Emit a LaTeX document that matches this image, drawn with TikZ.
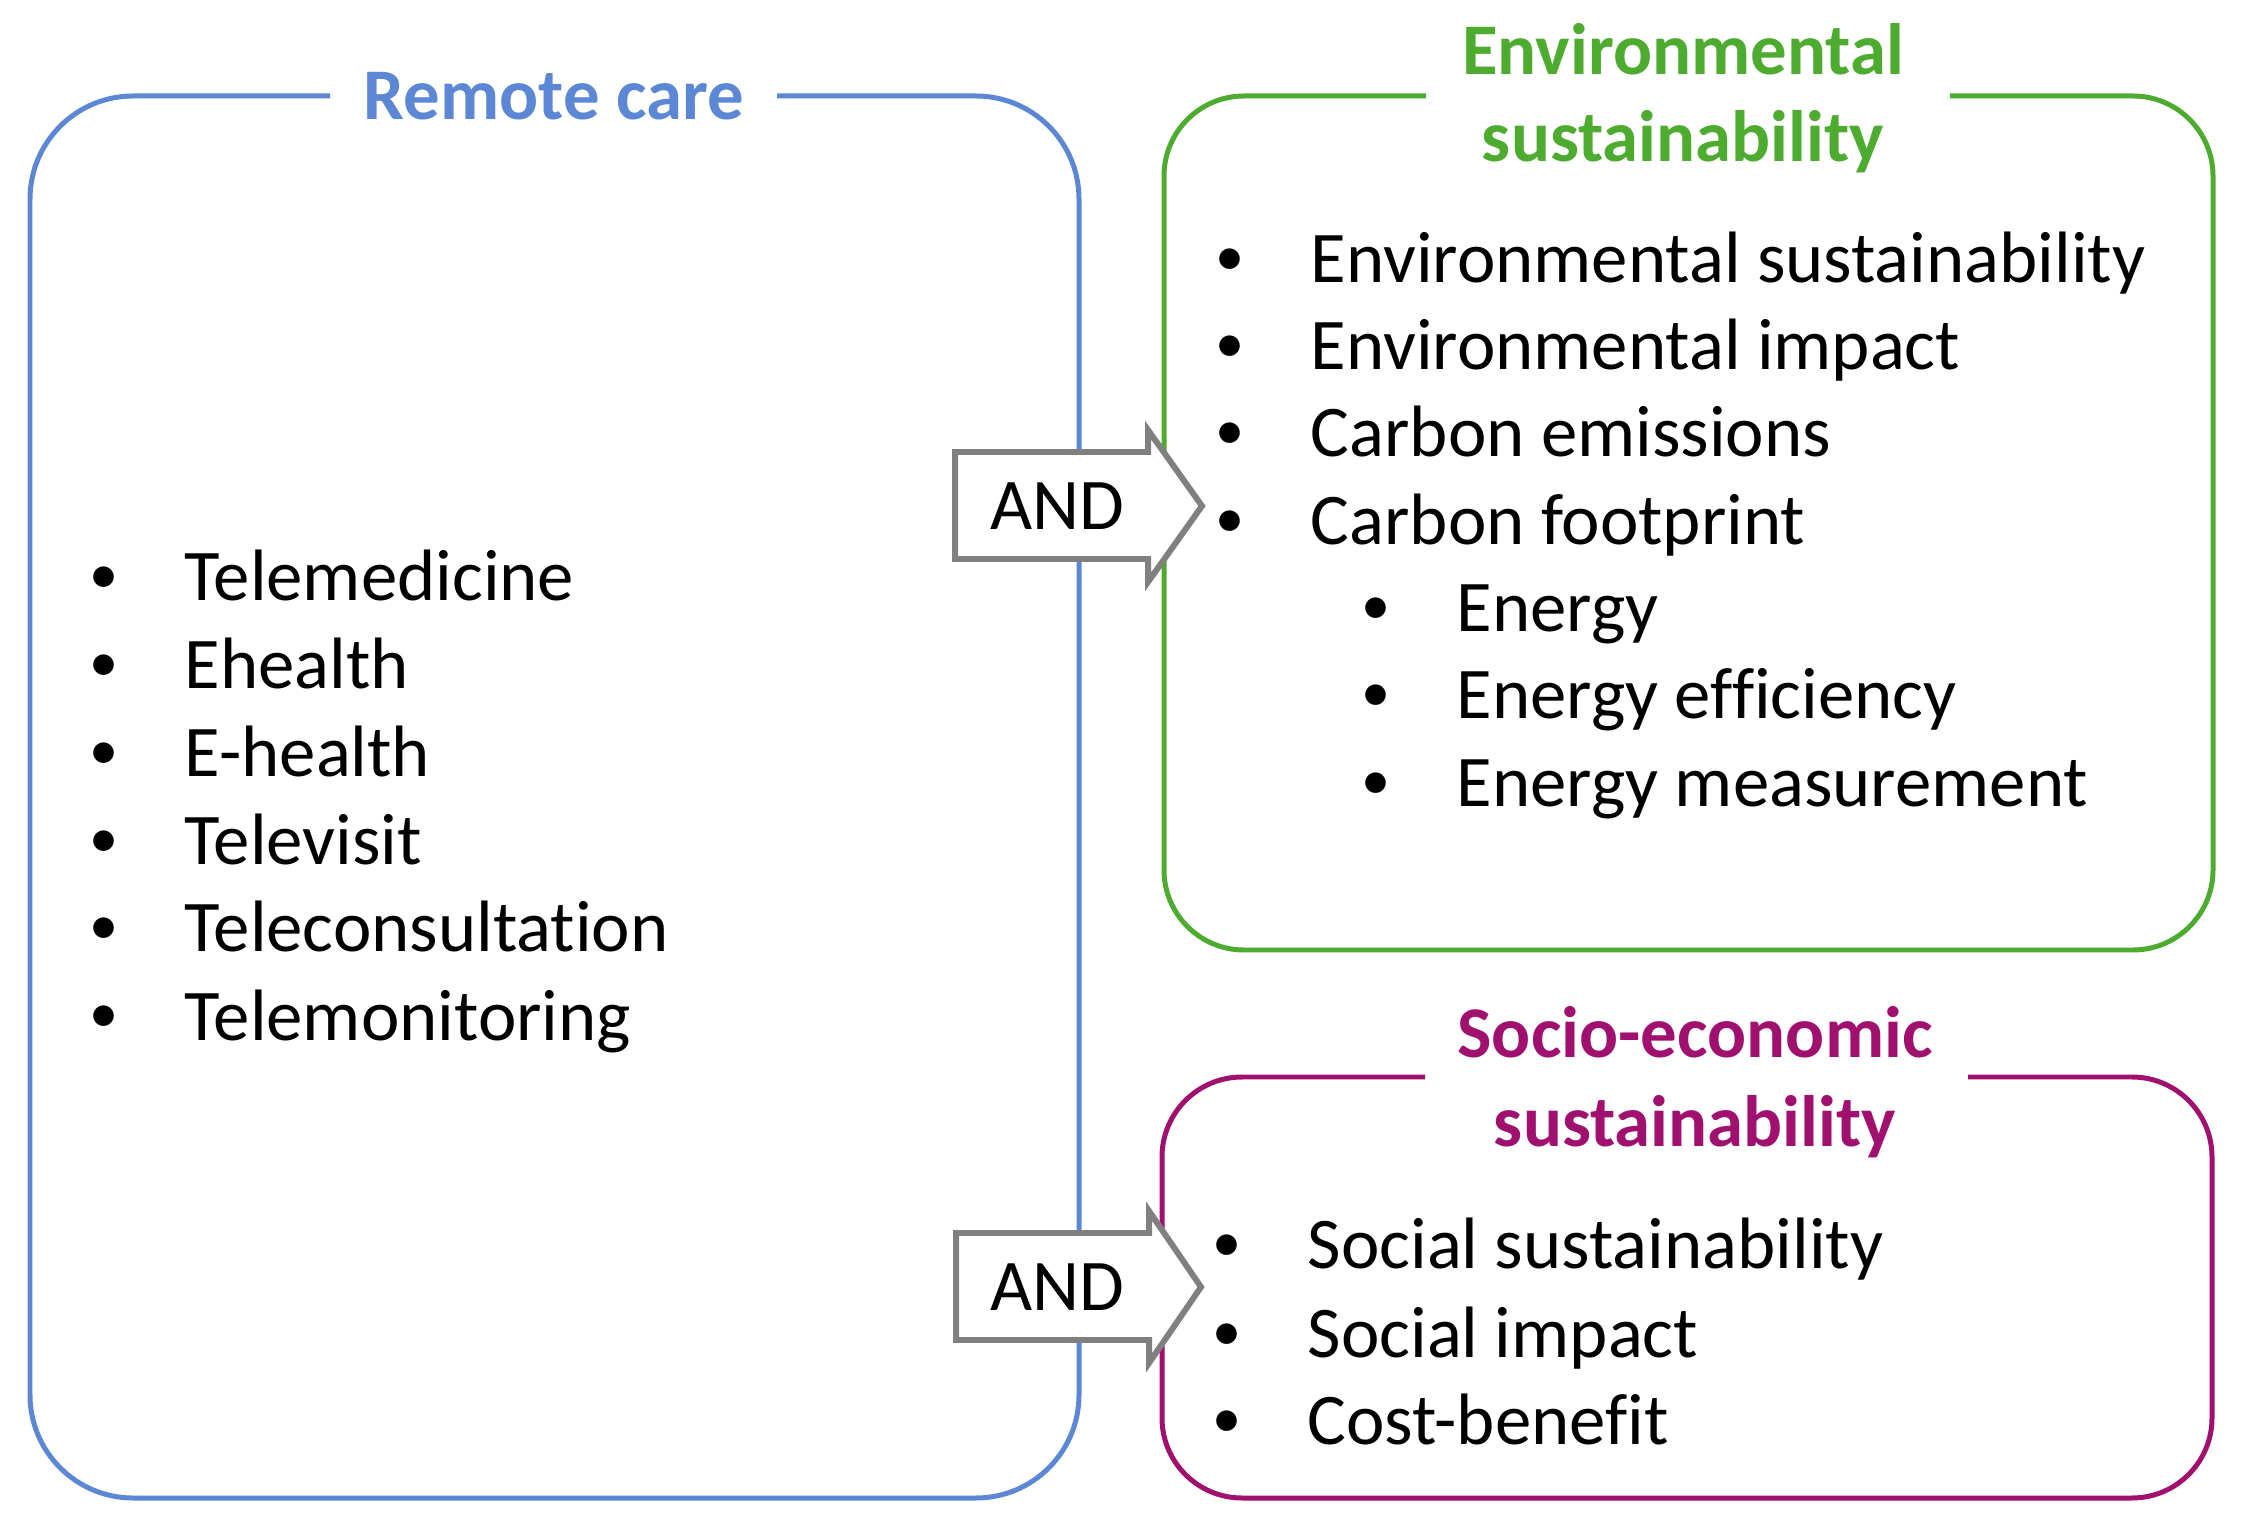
\documentclass[tikz,border=0pt]{standalone}
\usepackage{fontspec}
\setmainfont{Carlito}[Ligatures=CommonOff]
\usepackage{tikz}

\definecolor{careblue}{RGB}{91,135,212}
\definecolor{envgreen}{RGB}{77,171,47}
\definecolor{socmagenta}{RGB}{160,16,110}
\definecolor{andgray}{RGB}{128,128,128}

\newcommand{\itm}[1]{\makebox[0pt]{\raisebox{0.07cm}{\scalebox{0.8}{\textbullet}}}\hspace{0.81cm}#1}

\tikzset{
    listitem/.style={anchor=base west, inner sep=0pt, font=\fontsize{20.7}{25}\selectfont},
    boxtitle/.style={anchor=base, inner sep=0pt, font=\fontsize{20.7}{25}\selectfont\bfseries},
    andtext/.style={inner sep=0pt, font=\fontsize{20.7}{25}\selectfont},
    andarrow/.style={draw=andgray, fill=white, line width=1.7pt, line join=miter}
}

\begin{document}
\begin{tikzpicture}[x=0.01cm, y=-0.01cm]
        \useasboundingbox (0, 0) rectangle (2245, 1540);

        % boxes, open at the title
        \draw[careblue, line width=1.42pt, rounded corners=1.03cm]
            (777, 96) -- (1079, 96) -- (1079, 1498) -- (30, 1498) -- (30, 96) -- (330, 96);
        \draw[envgreen, line width=1.42pt, rounded corners=0.8cm]
            (1950, 96) -- (2213, 96) -- (2213, 950) -- (1164, 950) -- (1164, 96) -- (1426, 96);
        \draw[socmagenta, line width=1.42pt, rounded corners=0.8cm]
            (1968, 1077) -- (2212, 1077) -- (2212, 1498) -- (1162, 1498) -- (1162, 1077) -- (1425, 1077);

        % titles
        \node[boxtitle, careblue] (caretitle) at (554, 120) {Remote care};
        \node[boxtitle, envgreen] (envtitleA) at (1683, 75) {Environmental};
        \node[boxtitle, envgreen] (envtitleB) at (1683, 162) {sustainability};
        \node[boxtitle, socmagenta] (soctitleA) at (1695, 1057) {Socio-economic};
        \node[boxtitle, socmagenta] (soctitleB) at (1695, 1146) {sustainability};

        % remote care terms
        \node[listitem] (care1) at (103, 601) {\itm{Telemedicine}};
        \node[listitem] (care2) at (103, 689) {\itm{Ehealth}};
        \node[listitem] (care3) at (103, 777) {\itm{E-health}};
        \node[listitem] (care4) at (103, 865) {\itm{Televisit}};
        \node[listitem] (care5) at (103, 952) {\itm{Teleconsultation}};
        \node[listitem] (care6) at (103, 1040) {\itm{Telemonitoring}};

        % environmental terms
        \node[listitem] (env1) at (1229, 283) {\itm{Environmental sustainability}};
        \node[listitem] (env2) at (1229, 370) {\itm{Environmental impact}};
        \node[listitem] (env3) at (1229, 457) {\itm{Carbon emissions}};
        \node[listitem] (env4) at (1229, 545) {\itm{Carbon footprint}};
        \node[listitem] (env5) at (1375, 632) {\itm{Energy}};
        \node[listitem] (env6) at (1375, 719) {\itm{Energy efficiency}};
        \node[listitem] (env7) at (1375, 807) {\itm{Energy measurement}};

        % socio-economic terms
        \node[listitem] (soc1) at (1226, 1268) {\itm{Social sustainability}};
        \node[listitem] (soc2) at (1226, 1357) {\itm{Social impact}};
        \node[listitem] (soc3) at (1226, 1444) {\itm{Cost-benefit}};

        % AND arrows
        \draw[andarrow] (955, 452) -- (1148, 452) -- (1148, 430) -- (1202, 506)
            -- (1148, 582) -- (1148, 559) -- (955, 559) -- cycle;
        \draw[andarrow] (956, 1233) -- (1149, 1233) -- (1149, 1211) -- (1201, 1287)
            -- (1149, 1363) -- (1149, 1340) -- (956, 1340) -- cycle;
        \node[andtext] (andtop) at (1057, 506) {AND};
        \node[andtext] (andbot) at (1057, 1287) {AND};
    \end{tikzpicture}
\end{document}
